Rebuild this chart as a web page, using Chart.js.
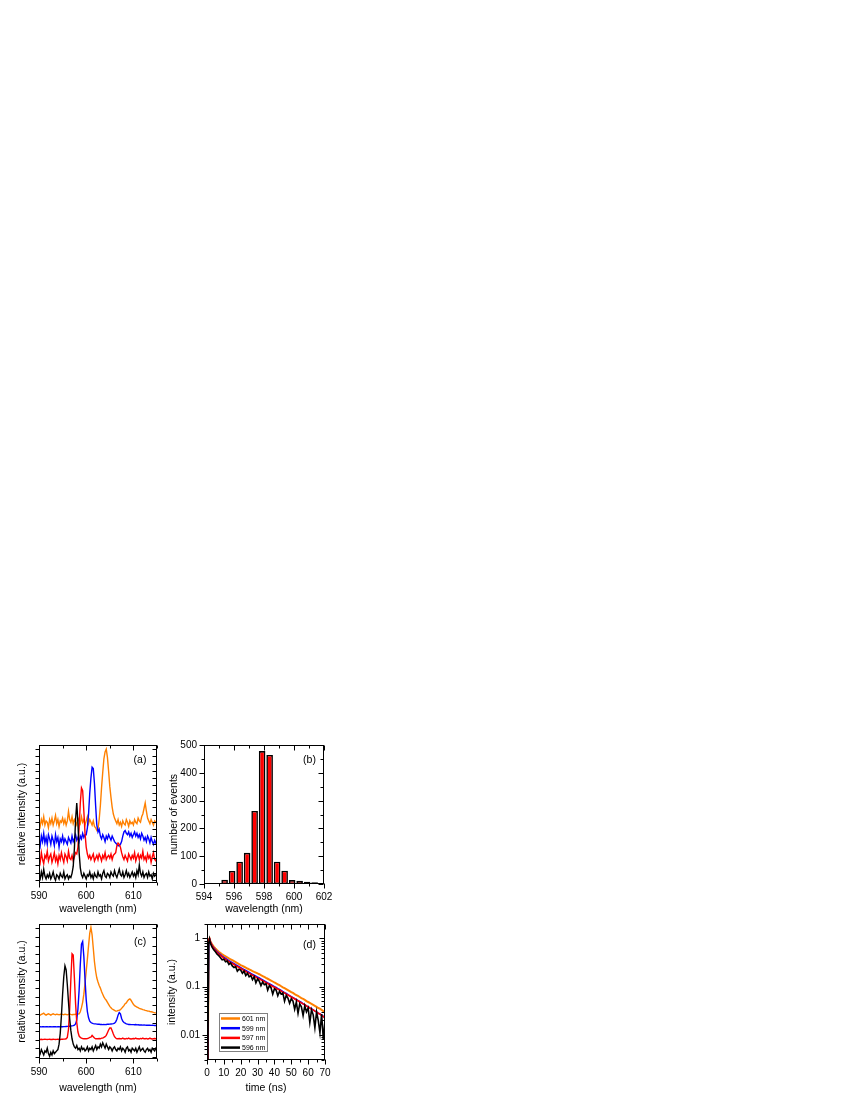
<!DOCTYPE html>
<html>
<head>
<meta charset="utf-8">
<title>spectra panels</title>
<script src="https://cdn.jsdelivr.net/npm/chart.js@4.4.1/dist/chart.umd.min.js"></script>
<style>
  html, body { margin: 0; padding: 0; background: #fff; }
  body { width: 850px; height: 1100px; position: relative; overflow: hidden; }
  canvas { position: absolute; }
</style>
</head>
<body>
<canvas id="chartA" width="170" height="185" style="left:0px;top:735px"></canvas>
<canvas id="chartB" width="175" height="185" style="left:165px;top:735px"></canvas>
<canvas id="chartC" width="170" height="186" style="left:0px;top:914px"></canvas>
<canvas id="chartD" width="175" height="186" style="left:165px;top:914px"></canvas>
<script>
// ---- data ----
// wavelength grid shared by panels (a) and (c), nm
const wavelength = [590,590.25,590.5,590.75,591,591.25,591.5,591.75,592,592.25,592.5,592.75,593,593.25,593.5,593.75,594,594.25,594.5,594.75,595,595.25,595.5,595.75,596,596.25,596.5,596.75,597,597.25,597.5,597.75,598,598.25,598.5,598.75,599,599.25,599.5,599.75,600,600.25,600.5,600.75,601,601.25,601.5,601.75,602,602.25,602.5,602.75,603,603.25,603.5,603.75,604,604.25,604.5,604.75,605,605.25,605.5,605.75,606,606.25,606.5,606.75,607,607.25,607.5,607.75,608,608.25,608.5,608.75,609,609.25,609.5,609.75,610,610.25,610.5,610.75,611,611.25,611.5,611.75,612,612.25,612.5,612.75,613,613.25,613.5,613.75,614,614.25,614.5,614.75,615];

// panel (a): single-emitter spectra, offset vertically
const aBlack = [0.5,0.3,0.8,0.4,1.0,0.5,0.3,0.6,0.4,0.7, 0.3,0.5,0.8,0.4,0.2,0.6,0.5,0.3,0.7,0.5, 0.4,0.8,0.3,0.5,0.6,0.3,0.5,0.4,0.7,1.2, 2.5,4.6,5.8,4.4,2.2,1.1,0.6,0.4,0.7,0.5, 0.3,0.6,0.5,0.8,0.4,0.6,0.3,0.7,0.5,0.4, 0.8,0.5,0.6,0.3,0.7,0.9,0.5,0.4,0.7,0.6, 0.4,0.8,0.6,0.5,0.9,0.6,0.4,0.7,1.0,0.6, 0.5,0.8,0.4,0.6,0.9,0.5,0.7,0.4,0.6,0.8, 0.5,0.7,0.4,0.9,0.6,1.3,0.7,0.5,0.8,0.4, 0.6,0.7,0.4,0.8,0.5,0.6,0.3,0.7,0.5,0.6, 0.5];
const aRed = [1.9,1.5,2.2,1.7,1.4,2.0,1.8,2.3,1.6,1.9, 2.1,1.5,1.8,2.2,1.6,1.9,1.4,2.0,1.7,2.2, 1.8,1.5,2.1,1.9,1.6,2.3,1.8,1.7,2.0,1.6, 1.9,2.2,2.1,2.6,4.0,5.8,6.9,6.7,5.2,3.6, 2.6,2.1,1.8,2.0,1.7,1.9,2.1,1.6,1.8,2.0, 1.7,2.1,1.9,1.6,2.0,1.8,2.2,1.7,1.9,2.0, 1.8,2.1,1.7,2.0,2.1,2.2,2.7,2.9,2.8,2.6, 2.2,1.9,1.7,2.0,1.8,1.6,2.1,1.9,1.7,2.0, 1.8,2.2,1.6,1.9,2.1,1.7,2.0,1.8,2.3,1.7, 1.9,1.6,2.1,1.8,2.0,1.5,1.9,2.2,1.7,1.6, 1.9];
const aBlue = [3.1,2.7,3.4,3.0,3.6,2.9,3.3,2.8,3.5,3.2, 2.8,3.4,3.1,2.7,3.5,3.0,3.3,2.6,3.2,3.0, 3.4,2.9,3.2,3.0,2.8,3.3,3.1,2.9,3.4,3.0, 3.2,3.5,3.1,3.3,3.0,3.4,3.2,3.6,3.3,3.5, 3.5,4.0,5.0,6.5,7.6,8.4,8.3,7.2,5.6,4.2, 3.7,3.9,3.4,3.2,3.5,3.3,3.0,3.4,3.2,3.5, 3.3,3.1,3.4,3.2,3.0,2.9,2.8,2.7,2.7,2.8, 3.0,3.4,3.7,3.8,3.6,3.5,3.7,3.4,3.6,3.3, 3.5,3.7,3.4,3.6,3.3,3.5,3.2,3.6,3.4,3.1, 3.3,3.0,3.4,3.2,2.9,3.3,3.0,2.8,3.1,2.9, 2.7];
const aOrange = [4.4,4.1,4.6,4.3,4.8,4.2,4.5,4.4,4.0,4.6, 4.3,4.7,4.2,4.5,4.9,4.3,4.6,4.1,4.5,4.4, 4.7,4.3,4.6,4.2,4.5,5.2,4.6,4.4,4.8,4.3, 4.6,4.4,4.2,4.7,4.5,4.3,4.8,4.4,4.6,4.2, 4.5,4.8,4.3,4.6,4.4,4.2,4.5,4.1,4.0,3.8, 3.9,4.6,5.6,6.9,8.0,9.0,9.5,9.7,9.1,8.1, 7.0,6.2,5.5,5.0,4.7,4.5,4.3,4.6,4.2,4.4, 4.1,4.5,4.3,4.2,4.6,4.4,4.1,4.5,4.3,4.4, 4.2,4.6,4.4,4.3,4.7,4.5,4.4,4.8,5.0,5.4, 5.8,5.2,4.7,4.5,4.3,4.6,4.4,4.2,4.5,4.4, 4.3];

// panel (b): histogram of emission peak positions
const histCenters = [594.875,595.375,595.875,596.375,596.875,597.375,597.875,598.375,598.875,599.375,599.875,600.375,600.875,601.375];
const histCounts = [3,15,47,80,112,263,478,464,80,48,14,12,8,6];

// panel (c): spectra of the four selected emitters
const cBlack = [0.6,0.4,0.7,0.5,0.3,0.6,0.5,0.8,0.4,0.2, 0.5,0.3,0.6,0.4,0.5,0.6,0.7,1.1,1.9,3.2, 4.8,6.1,6.9,6.6,5.5,4.2,3.0,2.1,1.5,1.1, 0.9,0.8,1.0,0.7,0.8,0.6,0.9,0.7,0.8,0.6, 0.7,0.9,0.6,0.8,0.7,0.9,0.6,0.8,1.0,0.7, 0.9,0.8,1.1,0.9,1.2,1.0,0.8,1.1,0.9,0.7, 0.9,0.8,0.6,0.8,0.9,0.7,0.6,0.8,0.7,0.9, 0.6,0.8,0.7,0.5,0.8,0.9,0.6,0.7,0.5,0.8, 0.7,0.6,0.8,0.5,0.7,0.9,0.6,0.7,0.8,0.6, 0.5,0.7,0.8,0.6,0.7,0.5,0.8,0.7,0.6,0.8, 0.7];
const cRed = [1.45,1.45,1.46,1.44,1.45,1.46,1.45,1.44,1.45,1.46, 1.45,1.45,1.46,1.45,1.44,1.45,1.46,1.45,1.45,1.46, 1.46,1.47,1.48,1.5,1.6,2.2,3.7,5.9,7.8,7.7, 6.0,4.1,2.7,2.0,1.7,1.6,1.55,1.52,1.5,1.5, 1.5,1.52,1.55,1.6,1.62,1.75,1.65,1.55,1.5,1.5, 1.5,1.52,1.5,1.55,1.55,1.6,1.65,1.75,1.95,2.15, 2.3,2.3,2.1,1.85,1.65,1.55,1.5,1.5,1.52,1.5, 1.5,1.55,1.5,1.48,1.52,1.5,1.55,1.5,1.48,1.5, 1.52,1.5,1.55,1.5,1.5,1.48,1.52,1.5,1.55,1.5, 1.5,1.52,1.48,1.5,1.55,1.5,1.48,1.5,1.52,1.5, 1.5];
const cBlue = [2.38,2.4,2.38,2.39,2.4,2.38,2.39,2.4,2.38,2.39, 2.4,2.38,2.39,2.4,2.39,2.38,2.4,2.39,2.38,2.4, 2.39,2.4,2.4,2.41,2.42,2.42,2.43,2.44,2.45,2.47, 2.5,2.6,2.9,3.7,5.1,7.0,8.5,8.7,7.6,5.9, 4.4,3.5,3.05,2.8,2.7,2.65,2.62,2.6,2.6,2.58, 2.57,2.57,2.56,2.56,2.55,2.56,2.55,2.56,2.57,2.57, 2.58,2.59,2.6,2.62,2.65,2.75,2.95,3.25,3.45,3.35, 3.0,2.8,2.7,2.65,2.6,2.58,2.56,2.56,2.55,2.55, 2.55,2.54,2.55,2.53,2.54,2.52,2.53,2.52,2.51,2.52, 2.51,2.5,2.51,2.5,2.5,2.49,2.5,2.49,2.48,2.49, 2.48];
const cOrange = [3.2,3.25,3.3,3.35,3.4,3.3,3.25,3.3,3.35,3.3, 3.25,3.3,3.35,3.3,3.28,3.32,3.3,3.27,3.3,3.33, 3.3,3.28,3.32,3.3,3.27,3.3,3.33,3.3,3.28,3.3, 3.3,3.32,3.3,3.33,3.35,3.5,3.8,4.2,4.8,5.6, 6.5,7.4,8.4,9.3,9.75,9.2,8.2,7.2,6.5,6.0, 5.7,5.45,5.25,5.0,4.8,4.6,4.45,4.35,4.2,4.05, 3.9,3.8,3.7,3.65,3.6,3.55,3.55,3.6,3.6,3.65, 3.75,3.85,3.95,4.1,4.15,4.3,4.4,4.45,4.35,4.2, 4.05,3.95,3.9,3.85,3.8,3.75,3.72,3.7,3.66,3.64, 3.6,3.58,3.56,3.55,3.52,3.5,3.48,3.45,3.43,3.42, 3.4];

// panel (d): PL decay curves, time in ns
const decayTime = [0,0.5,1,1.5,2,3,4,5,6,7,8,9,10,11,12,13,14,15,16,17,18,19,20,21,22,23,24,25,26,27,28,29,30,31,32,33,34,35,36,37,38,39,40,41,42,43,44,45,46,47,48,49,50,51,52,53,54,55,56,57,58,59,60,61,62,63,64,65,66,67,68,69,70];
const decay601 = [0.002,0.004,0.9,1.0,0.88, 0.76,0.68,0.62,0.57,0.53,0.50,0.47,0.445, 0.425,0.405,0.385,0.37,0.355,0.338,0.322,0.307,0.293,0.28, 0.27,0.259,0.248,0.238,0.229,0.22,0.211,0.203,0.196,0.188, 0.181,0.173,0.166,0.159,0.152,0.146,0.14,0.134,0.128,0.122, 0.117,0.112,0.107,0.102,0.097,0.093,0.089,0.085,0.081,0.077, 0.074,0.07,0.067,0.064,0.061,0.058,0.056,0.053,0.05,0.048, 0.046,0.044,0.042,0.04,0.038,0.036,0.035,0.033,0.031,0.03];
const decay599 = [0.002,0.004,0.85,0.98,0.85, 0.72,0.64,0.58,0.53,0.49,0.46,0.43,0.405, 0.385,0.365,0.345,0.33,0.315,0.3,0.285,0.272,0.26,0.248, 0.237,0.226,0.216,0.206,0.197,0.188,0.18,0.172,0.165,0.158, 0.151,0.144,0.138,0.132,0.126,0.12,0.115,0.11,0.105,0.1, 0.096,0.091,0.087,0.083,0.079,0.075,0.072,0.068,0.065,0.062, 0.059,0.056,0.054,0.051,0.049,0.047,0.044,0.042,0.04,0.038, 0.036,0.035,0.033,0.031,0.03,0.028,0.027,0.026,0.024,0.023];
const decay597 = [0.002,0.6,0.95,1.0,0.84, 0.71,0.62,0.56,0.51,0.475,0.445,0.415,0.39, 0.37,0.35,0.332,0.316,0.302,0.288,0.274,0.262,0.25,0.238, 0.227,0.217,0.207,0.198,0.189,0.181,0.173,0.165,0.158,0.151, 0.145,0.139,0.133,0.127,0.121,0.116,0.111,0.106,0.101,0.097, 0.093,0.089,0.085,0.081,0.077,0.074,0.07,0.067,0.064,0.061, 0.058,0.056,0.053,0.051,0.048,0.046,0.044,0.042,0.04,0.038, 0.036,0.034,0.033,0.031,0.03,0.028,0.027,0.025,0.024,0.022];
const decay596 = [0.002,0.003,0.8,0.97,0.8, 0.66,0.58,0.53,0.47,0.44,0.40,0.36,0.37, 0.33,0.34,0.29,0.31,0.27,0.25,0.26,0.21,0.23,0.22, 0.19,0.21,0.17,0.19,0.16,0.17,0.14,0.16,0.12,0.145, 0.13,0.105,0.125,0.11,0.115,0.085,0.105,0.095,0.07,0.09, 0.085,0.065,0.08,0.07,0.074,0.05,0.066,0.058,0.045,0.056, 0.05,0.034,0.048,0.028,0.044,0.038,0.025,0.04,0.03,0.036, 0.018,0.033,0.026,0.014,0.03,0.02,0.011,0.027,0.008,0.02];

// tick positions
const specXMajor = [590, 600, 610];
const specXMinor = [595, 605, 615];
const aYTicks = [0.22,0.75,1.27,1.8,2.33,2.85,3.38,3.91,4.43,4.96,5.49,6.01,6.54,7.07,7.59,8.12,8.65,9.17,9.7];
const cYTicks = [0.17,0.8,1.44,2.07,2.7,3.34,3.97,4.6,5.23,5.87,6.5,7.13,7.77,8.4,9.03,9.67];
const histXMajor = [594, 596, 598, 600, 602];
const histXMinor = [595, 597, 599, 601];
const histYMajor = [0, 100, 200, 300, 400, 500];
const histYMinor = [50, 150, 250, 350, 450];
const decayXMajor = [0, 10, 20, 30, 40, 50, 60, 70];
const decayXMinor = [5, 15, 25, 35, 45, 55, 65];
const decayYMajor = [0.01, 0.1, 1];
const decayYMinor = [0.003,0.004,0.005,0.006,0.007,0.008,0.009,0.02,0.03,0.04,0.05,0.06,0.07,0.08,0.09,0.2,0.3,0.4,0.5,0.6,0.7,0.8,0.9,2];

const ORANGE = '#ff8000', BLUE = '#0000ff', RED = '#ff0000', BLACK = '#000000';
const FONT = '"Liberation Sans", Arial, Helvetica, sans-serif';

Chart.defaults.font.family = FONT;
Chart.defaults.font.size = 10;
Chart.defaults.color = '#000';
Chart.defaults.animation = false;

// frame around the plot, tick marks on all four sides, panel letter
const axisFrame = {
    id: 'axisFrame',
    afterDraw(chart, args, o) {
        const ctx = chart.ctx;
        const a = chart.chartArea;
        const sx = chart.scales.x, sy = chart.scales.y;
        const L = Math.round(a.left) + 0.5, R = Math.round(a.right) - 0.5;
        const T = Math.round(a.top) + 0.5, B = Math.round(a.bottom) - 0.5;
        ctx.save();
        ctx.strokeStyle = '#000';
        ctx.lineWidth = 1;
        ctx.strokeRect(L, T, R - L, B - T);
        const mark = (vals, len, horiz) => {
            ctx.beginPath();
            vals.forEach(v => {
                if (horiz) {
                    const p = Math.round(sx.getPixelForValue(v)) + 0.5;
                    ctx.moveTo(p, B); ctx.lineTo(p, B + len);
                    ctx.moveTo(p, T); ctx.lineTo(p, T + len);
                } else {
                    const p = Math.round(sy.getPixelForValue(v)) + 0.5;
                    ctx.moveTo(L, p); ctx.lineTo(L - len, p);
                    ctx.moveTo(R, p); ctx.lineTo(R - len, p);
                }
            });
            ctx.stroke();
        };
        mark(o.xMajor, 5, true);
        mark(o.xMinor, 3, true);
        mark(o.yMajor, o.yLen || 5, false);
        mark(o.yMinor, 3, false);
        ctx.fillStyle = '#000';
        ctx.font = '10.5px ' + FONT;
        ctx.textAlign = 'center';
        ctx.textBaseline = 'middle';
        ctx.fillText(o.tag, a.right - o.tagDx, a.top + o.tagDy);
        ctx.restore();
    }
};

// boxed legend inside panel (d)
const decayLegend = {
    id: 'decayLegend',
    afterDraw(chart) {
        const ctx = chart.ctx;
        const a = chart.chartArea;
        const x0 = Math.round(a.left) + 12, y0 = Math.round(a.top) + 89;
        ctx.save();
        ctx.fillStyle = '#fff';
        ctx.fillRect(x0, y0, 48, 38);
        ctx.strokeStyle = '#808080';
        ctx.lineWidth = 1;
        ctx.strokeRect(x0 + 0.5, y0 + 0.5, 48, 38);
        ctx.font = '7px ' + FONT;
        ctx.textAlign = 'left';
        ctx.textBaseline = 'middle';
        chart.data.datasets.forEach((ds, i) => {
            const y = y0 + 5.5 + i * 9.7;
            ctx.strokeStyle = ds.borderColor;
            ctx.lineWidth = 2.5;
            ctx.beginPath();
            ctx.moveTo(x0 + 2, y); ctx.lineTo(x0 + 21, y);
            ctx.stroke();
            ctx.fillStyle = '#000';
            ctx.fillText(ds.label, x0 + 23, y + 0.5);
        });
        ctx.restore();
    }
};

function points(xs, ys) {
    return xs.map((x, i) => ({ x: x, y: ys[i] }));
}

function lineSet(label, color, xs, ys, width, order) {
    return {
        label: label,
        data: points(xs, ys),
        borderColor: color,
        backgroundColor: color,
        borderWidth: width,
        pointRadius: 0,
        tension: 0,
        fill: false,
        order: order
    };
}

function xAxis(min, max, majors, title, height, titlePad) {
    return {
        type: 'linear', min: min, max: max, offset: false,
        afterBuildTicks: s => { s.ticks = majors.map(v => ({ value: v })); },
        afterFit: s => { s.height = height; },
        grid: { display: false, drawTicks: true, tickLength: 5 },
        border: { display: false },
        ticks: { padding: 2, maxRotation: 0, autoSkip: false, font: { size: 10 }, callback: v => String(v) },
        title: { display: true, text: title, font: { size: 10.5 }, padding: { top: 0, bottom: titlePad } }
    };
}

function yAxis(type, min, max, majors, title, width, titlePad, showLabels) {
    return {
        type: type, min: min, max: max,
        afterBuildTicks: s => { s.ticks = majors.map(v => ({ value: v })); },
        afterFit: s => { s.width = width; },
        grid: { display: false, drawTicks: true, tickLength: 5 },
        border: { display: false },
        ticks: { display: showLabels, padding: 2, autoSkip: false, font: { size: 10 }, callback: v => String(v) },
        title: { display: true, text: title, font: { size: 10.5 }, padding: { top: titlePad, bottom: 0 } }
    };
}

function baseOptions(right, scales, frame) {
    return {
        responsive: false,
        devicePixelRatio: 1,
        animation: false,
        events: [],
        layout: { padding: { left: 0, top: 10, right: right, bottom: 0 } },
        scales: scales,
        plugins: { legend: { display: false }, tooltip: { enabled: false }, axisFrame: frame }
    };
}

// (a)
new Chart(document.getElementById('chartA'), {
    type: 'line',
    data: {
        datasets: [
            lineSet('orange', ORANGE, wavelength, aOrange, 1.4, 3),
            lineSet('blue', BLUE, wavelength, aBlue, 1.4, 2),
            lineSet('red', RED, wavelength, aRed, 1.4, 1),
            lineSet('black', BLACK, wavelength, aBlack, 1.4, 0)
        ]
    },
    options: baseOptions(13, {
        x: xAxis(590, 615, specXMajor, 'wavelength (nm)', 37, 4.7),
        y: yAxis('linear', 0, 10, [], 'relative intensity (a.u.)', 39, 15.7, false)
    }, { xMajor: specXMajor, xMinor: specXMinor, yMajor: aYTicks, yMinor: [], yLen: 4, tag: '(a)', tagDx: 17, tagDy: 15 }),
    plugins: [axisFrame]
});

// (b)
new Chart(document.getElementById('chartB'), {
    type: 'bar',
    data: {
        datasets: [{
            label: 'events',
            data: points(histCenters, histCounts),
            backgroundColor: RED,
            borderColor: BLACK,
            borderWidth: 1.6,
            borderSkipped: false,
            categoryPercentage: 1,
            barPercentage: 0.88
        }]
    },
    options: baseOptions(16, {
        x: xAxis(594, 602, histXMajor, 'wavelength (nm)', 36, 4.7),
        y: yAxis('linear', 0, 500, histYMajor, 'number of events', 39, 2.7, true)
    }, { xMajor: histXMajor, xMinor: histXMinor, yMajor: histYMajor, yMinor: histYMinor, tag: '(b)', tagDx: 14.5, tagDy: 15.5 }),
    plugins: [axisFrame]
});

// (c)
new Chart(document.getElementById('chartC'), {
    type: 'line',
    data: {
        datasets: [
            lineSet('orange', ORANGE, wavelength, cOrange, 1.4, 3),
            lineSet('blue', BLUE, wavelength, cBlue, 1.4, 2),
            lineSet('red', RED, wavelength, cRed, 1.4, 1),
            lineSet('black', BLACK, wavelength, cBlack, 1.4, 0)
        ]
    },
    options: baseOptions(13, {
        x: xAxis(590, 615, specXMajor, 'wavelength (nm)', 41, 6),
        y: yAxis('linear', 0, 10, [], 'relative intensity (a.u.)', 39, 15.7, false)
    }, { xMajor: specXMajor, xMinor: specXMinor, yMajor: cYTicks, yMinor: [], yLen: 4, tag: '(c)', tagDx: 17, tagDy: 18 }),
    plugins: [axisFrame]
});

// (d)
new Chart(document.getElementById('chartD'), {
    type: 'line',
    data: {
        datasets: [
            lineSet('601 nm', ORANGE, decayTime, decay601, 2, 3),
            lineSet('599 nm', BLUE, decayTime, decay599, 1.6, 2),
            lineSet('597 nm', RED, decayTime, decay597, 1.6, 1),
            lineSet('596 nm', BLACK, decayTime, decay596, 1.6, 0)
        ]
    },
    options: baseOptions(15, {
        x: xAxis(0, 70, decayXMajor, 'time (ns)', 40, 5.7),
        y: yAxis('logarithmic', 0.003, 2, decayYMajor, 'intensity (a.u.)', 42, 1.2, true)
    }, { xMajor: decayXMajor, xMinor: decayXMinor, yMajor: decayYMajor, yMinor: decayYMinor, tag: '(d)', tagDx: 15.5, tagDy: 21 }),
    plugins: [axisFrame, decayLegend]
});
</script>
</body>
</html>
